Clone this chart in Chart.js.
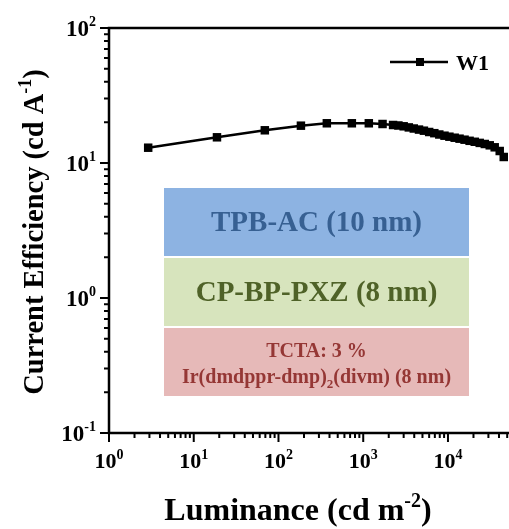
<!DOCTYPE html>
<html><head><meta charset="utf-8">
<script src="https://cdn.jsdelivr.net/npm/chart.js@4"></script>
<style>html,body{margin:0;padding:0;background:#fff;overflow:hidden}</style>
</head><body>
<canvas id="c" width="509" height="529"></canvas>
<script>
// ---- data ----
const luminance = [2.9, 18.8, 69, 184, 372, 734, 1164, 1690, 2250, 2600, 3000, 3450, 3950, 4550, 5200, 6000, 6900, 7900, 9100, 10400, 12000, 13700, 15700, 18000, 20700, 23700, 27200, 31100, 35600, 40800, 45500];
const efficiency = [12.98, 15.5, 17.47, 18.9, 19.69, 19.69, 19.69, 19.45, 19.12, 18.96, 18.70, 18.35, 18.01, 17.68, 17.35, 16.97, 16.63, 16.26, 15.93, 15.66, 15.39, 15.14, 14.88, 14.60, 14.36, 14.09, 13.83, 13.52, 13.07, 12.27, 11.08];
const seriesName = 'W1';
const xTickExponents = [0, 1, 2, 3, 4];
const yTickExponents = [-1, 0, 1, 2];
const xTitleParts = ['Luminance (cd m', '-2', ')'];
const yTitleParts = ['Current Efficiency (cd A', '-1', ')'];
const layerLabels = [['TPB-AC (10 nm)'], ['CP-BP-PXZ (8 nm)'], ['TCTA: 3 %', 'Ir(dmdppr-dmp)2(divm) (8 nm)']];

const FONT = '"Liberation Serif","Times New Roman",serif';

function drawSup(ctx, parts, x, y, size, supSize, align) {
  ctx.font = 'bold ' + size + 'px ' + FONT;
  const w0 = ctx.measureText(parts[0]).width;
  const w2 = parts[2] ? ctx.measureText(parts[2]).width : 0;
  ctx.font = 'bold ' + supSize + 'px ' + FONT;
  const w1 = ctx.measureText(parts[1]).width;
  const total = w0 + w1 + w2;
  let sx = align === 'center' ? x - total / 2 : (align === 'right' ? x - total : x);
  ctx.textAlign = 'left';
  ctx.textBaseline = 'alphabetic';
  ctx.font = 'bold ' + size + 'px ' + FONT;
  ctx.fillText(parts[0], sx, y);
  ctx.font = 'bold ' + supSize + 'px ' + FONT;
  ctx.fillText(parts[1], sx + w0, y - size * 0.42);
  if (parts[2]) {
    ctx.font = 'bold ' + size + 'px ' + FONT;
    ctx.fillText(parts[2], sx + w0 + w1, y);
  }
}

const decor = {
  id: 'decor',
  beforeDatasetsDraw(chart) {
    const ctx = chart.ctx;
    const a = chart.chartArea;
    const L = a.left + 55, R = a.left + 360;
    const boxes = [
      {t: 188, b: 256, fill: '#8DB3E2', color: '#376092', size: 29},
      {t: 258, b: 326, fill: '#D7E4BD', color: '#4F6228', size: 29},
      {t: 328, b: 396, fill: '#E6B9B8', color: '#953735', size: 20}
    ];
    ctx.save();
    boxes.forEach((bx, i) => {
      ctx.fillStyle = bx.fill;
      ctx.fillRect(L, bx.t, R - L, bx.b - bx.t);
      ctx.fillStyle = bx.color;
      ctx.font = 'bold ' + bx.size + 'px ' + FONT;
      ctx.textAlign = 'center';
      ctx.textBaseline = 'middle';
      const lines = layerLabels[i];
      const cx = (L + R) / 2;
      if (lines.length === 1) {
        ctx.fillText(lines[0], cx, (bx.t + bx.b) / 2 + 2);
      } else {
        ctx.textBaseline = 'alphabetic';
        ctx.fillText(lines[0], cx, bx.t + 29);
        const s = lines[1];
        const idx = s.indexOf(')2(') + 1;
        const p1 = s.slice(0, idx), p2 = '2', p3 = s.slice(idx + 1);
        ctx.font = 'bold 20px ' + FONT;
        const w1 = ctx.measureText(p1).width, w3 = ctx.measureText(p3).width;
        ctx.font = 'bold 13px ' + FONT;
        const w2 = ctx.measureText(p2).width;
        let sx = cx - (w1 + w2 + w3) / 2;
        ctx.textAlign = 'left';
        const by = bx.t + 55;
        ctx.font = 'bold 20px ' + FONT;
        ctx.fillText(p1, sx, by);
        ctx.font = 'bold 13px ' + FONT;
        ctx.fillText(p2, sx + w1, by + 5);
        ctx.font = 'bold 20px ' + FONT;
        ctx.fillText(p3, sx + w1 + w2, by);
      }
    });
    ctx.restore();
  },
  afterDraw(chart) {
    const ctx = chart.ctx;
    const a = chart.chartArea;
    const xs = chart.scales.x, ys = chart.scales.y;
    ctx.save();
    ctx.strokeStyle = '#000';
    ctx.fillStyle = '#000';
    ctx.lineWidth = 2.5;
    ctx.lineCap = 'butt';
    ctx.beginPath();
    ctx.moveTo(a.left, a.top - 1.25); ctx.lineTo(a.left, a.bottom);
    ctx.moveTo(a.left - 1.25, a.bottom); ctx.lineTo(a.right, a.bottom);
    ctx.moveTo(a.left - 1.25, a.top); ctx.lineTo(a.right, a.top);
    ctx.stroke();
    ctx.lineWidth = 2;
    ctx.beginPath();
    for (let e = xTickExponents[0]; e <= xTickExponents[xTickExponents.length - 1] + 1; e++) {
      for (let m = 1; m <= 9; m++) {
        const v = m * Math.pow(10, e);
        if (v < xs.min || v > xs.max) continue;
        const px = xs.getPixelForValue(v);
        const len = m === 1 ? 9 : 5;
        ctx.moveTo(px, a.bottom); ctx.lineTo(px, a.bottom + len);
      }
    }
    for (let e = yTickExponents[0]; e <= yTickExponents[yTickExponents.length - 1]; e++) {
      for (let m = 1; m <= 9; m++) {
        const v = m * Math.pow(10, e);
        if (v < ys.min - 1e-9 || v > ys.max + 1e-9) continue;
        const py = ys.getPixelForValue(v);
        const len = m === 1 ? 9 : 5;
        ctx.moveTo(a.left, py); ctx.lineTo(a.left - len, py);
      }
    }
    ctx.stroke();
    xTickExponents.forEach(e => {
      const px = xs.getPixelForValue(Math.pow(10, e));
      drawSup(ctx, ['10', String(e), ''], px, 468, 22, 14, 'center');
    });
    yTickExponents.forEach(e => {
      const py = ys.getPixelForValue(Math.pow(10, e));
      drawSup(ctx, ['10', String(e), ''], a.left - 13, py + 8, 23, 14, 'right');
    });
    drawSup(ctx, xTitleParts, 298, 520, 32, 20, 'center');
    ctx.save();
    ctx.translate(43, 232);
    ctx.rotate(-Math.PI / 2);
    drawSup(ctx, yTitleParts, 0, 0, 28.5, 18, 'center');
    ctx.restore();
    ctx.lineWidth = 2.5;
    ctx.beginPath();
    ctx.moveTo(390, 62); ctx.lineTo(448, 62);
    ctx.stroke();
    ctx.fillRect(416, 58, 8, 8);
    ctx.font = 'bold 22px ' + FONT;
    ctx.textAlign = 'left';
    ctx.textBaseline = 'alphabetic';
    ctx.fillText(seriesName, 456, 70);
    ctx.restore();
  }
};

new Chart(document.getElementById('c'), {
  type: 'line',
  data: {
    datasets: [{
      label: seriesName,
      data: luminance.map((x, i) => ({x: x, y: efficiency[i]})),
      borderColor: '#000',
      backgroundColor: '#000',
      borderWidth: 2.5,
      pointStyle: 'rect',
      pointRadius: 6,
      pointBorderWidth: 0,
      pointBackgroundColor: '#000',
      tension: 0
    }]
  },
  options: {
    responsive: false,
    animation: false,
    devicePixelRatio: 1,
    layout: {autoPadding: false, padding: {left: 109, top: 28, right: 0, bottom: 96}},
    plugins: {legend: {display: false}, tooltip: {enabled: false}},
    scales: {
      x: {
        type: 'logarithmic', min: 1, max: 52500,
        grid: {display: false, drawTicks: false},
        border: {display: false},
        ticks: {display: false}
      },
      y: {
        type: 'logarithmic', min: 0.1, max: 100,
        grid: {display: false, drawTicks: false},
        border: {display: false},
        ticks: {display: false}
      }
    }
  },
  plugins: [decor]
});
</script>
</body></html>
